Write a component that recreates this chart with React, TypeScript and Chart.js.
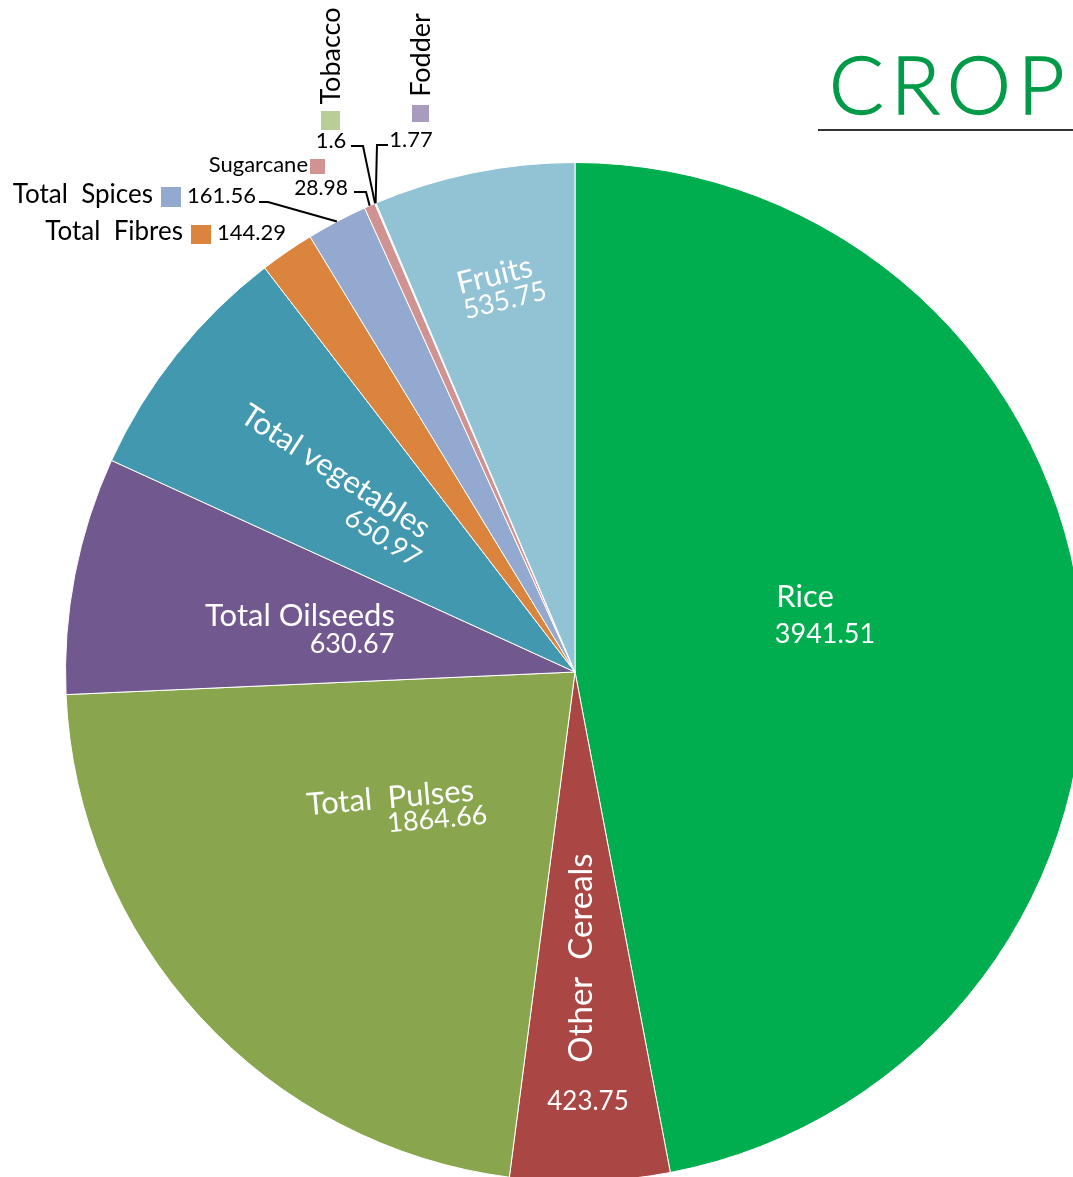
import React, { useEffect, useRef } from "react";
import { Chart, registerables } from "chart.js";

Chart.register(...registerables);

// ---------- data ----------
const categories = [
  "Rice",
  "Other  Cereals",
  "Total  Pulses",
  "Total Oilseeds",
  "Total vegetables",
  "Total  Fibres",
  "Total  Spices",
  "Sugarcane",
  "Tobacco",
  "Fodder",
  "Fruits",
];
const values = [3941.51, 423.75, 1864.66, 630.67, 650.97, 144.29, 161.56, 28.98, 1.6, 1.77, 535.75];
const sliceColors = [
  "#00AE50",
  "#AA4643",
  "#89A54E",
  "#71588F",
  "#4198AF",
  "#DB843D",
  "#93A9CF",
  "#D19392",
  "#B9CD96",
  "#A99BBD",
  "#91C3D5",
];
const titleText = "CROPPING PATTERN";

// ---------- layout (positions of annotations, not marks) ----------
const CANVAS_W = 1200;
const CANVAS_H = 1250;
const FONT = "Lato, 'Open Sans', sans-serif";

type TextPos = { x: number; y: number; rot: number; size: number; align?: CanvasTextAlign };

// labels drawn inside the slices (white)
const insideLabels: { index: number; name: TextPos; value: TextPos }[] = [
  { index: 0, name: { x: 805, y: 607, rot: 0, size: 31 }, value: { x: 825, y: 643, rot: 0, size: 27 } },
  { index: 1, name: { x: 592, y: 958, rot: -90, size: 33 }, value: { x: 588, y: 1110, rot: 0, size: 26 } },
  { index: 2, name: { x: 391, y: 808, rot: -5, size: 31 }, value: { x: 438, y: 828, rot: -5, size: 27 } },
  { index: 3, name: { x: 300, y: 626, rot: 0, size: 31 }, value: { x: 352, y: 653, rot: 0, size: 27 } },
  { index: 4, name: { x: 330, y: 480, rot: 33, size: 31 }, value: { x: 378, y: 545, rot: 33, size: 27 } },
  { index: 10, name: { x: 497, y: 285, rot: -14, size: 31 }, value: { x: 507, y: 309, rot: -14, size: 27 } },
];

// labels drawn outside the pie with a colour key and a leader line
const outsideLabels: {
  index: number;
  name: TextPos;
  key: { x: number; y: number; w: number; h: number };
  value: TextPos;
  leader: [number, number][];
}[] = [
  {
    index: 5,
    name: { x: 183, y: 240, rot: 0, size: 26, align: "right" },
    key: { x: 191, y: 225, w: 20, h: 19 },
    value: { x: 217, y: 240, rot: 0, size: 22, align: "left" },
    leader: [],
  },
  {
    index: 6,
    name: { x: 153, y: 203, rot: 0, size: 26, align: "right" },
    key: { x: 161, y: 187, w: 20, h: 20 },
    value: { x: 187, y: 203, rot: 0, size: 22, align: "left" },
    leader: [
      [259, 202],
      [268, 202],
    ],
  },
  {
    index: 7,
    name: { x: 308, y: 172, rot: 0, size: 22, align: "right" },
    key: { x: 310, y: 159, w: 15, h: 15 },
    value: { x: 321, y: 195, rot: 0, size: 21 },
    leader: [
      [354, 192],
      [366, 192],
    ],
  },
  {
    index: 8,
    name: { x: 340, y: 56, rot: -90, size: 27 },
    key: { x: 321, y: 111, w: 19, h: 19 },
    value: { x: 331, y: 148, rot: 0, size: 22 },
    leader: [
      [351, 146],
      [363, 146],
    ],
  },
  {
    index: 9,
    name: { x: 430, y: 55, rot: -90, size: 27 },
    key: { x: 412, y: 105, w: 17, h: 17 },
    value: { x: 411, y: 147, rot: 0, size: 22 },
    leader: [
      [388, 145],
      [377, 145],
    ],
  },
];

function drawText(
  ctx: CanvasRenderingContext2D,
  text: string,
  p: TextPos,
  color: string
) {
  ctx.save();
  ctx.translate(p.x, p.y);
  ctx.rotate((p.rot * Math.PI) / 180);
  ctx.font = `${p.size}px ${FONT}`;
  ctx.fillStyle = color;
  ctx.textAlign = p.align || "center";
  ctx.textBaseline = "alphabetic";
  ctx.fillText(text, 0, 0);
  ctx.restore();
}

const labelPlugin = {
  id: "labelPlugin",
  afterDraw(chart: any) {
    const ctx: CanvasRenderingContext2D = chart.ctx;
    const meta = chart.getDatasetMeta(0);
    const ds = chart.data.datasets[0];
    const labels = chart.data.labels as string[];

    // title
    ctx.save();
    ctx.translate(829, 114);
    ctx.font = `300 81px ${FONT}`;
    ctx.fillStyle = "#009B48";
    ctx.strokeStyle = "#009B48";
    ctx.lineWidth = 1.4;
    ctx.textAlign = "left";
    ctx.textBaseline = "alphabetic";
    (ctx as any).letterSpacing = "7px";
    ctx.fillText(titleText, 0, 0);
    ctx.strokeText(titleText, 0, 0);
    ctx.restore();
    ctx.save();
    ctx.strokeStyle = "#333333";
    ctx.lineWidth = 2;
    ctx.beginPath();
    ctx.moveTo(818, 130);
    ctx.lineTo(CANVAS_W, 130);
    ctx.stroke();
    ctx.restore();

    // inside labels
    insideLabels.forEach((l) => {
      drawText(ctx, labels[l.index], l.name, "#ffffff");
      drawText(ctx, String(ds.data[l.index]), l.value, "#ffffff");
    });

    // outside labels
    outsideLabels.forEach((l) => {
      drawText(ctx, labels[l.index], l.name, "#000000");
      ctx.fillStyle = (ds.backgroundColor as string[])[l.index];
      ctx.fillRect(l.key.x, l.key.y, l.key.w, l.key.h);
      drawText(ctx, String(ds.data[l.index]), l.value, "#000000");
      if (l.leader.length) {
        const arc = meta.data[l.index];
        const { x, y, startAngle, endAngle, outerRadius } = arc.getProps(
          ["x", "y", "startAngle", "endAngle", "outerRadius"],
          true
        );
        const mid = (startAngle + endAngle) / 2;
        const ex = x + Math.cos(mid) * outerRadius;
        const ey = y + Math.sin(mid) * outerRadius;
        ctx.save();
        ctx.strokeStyle = "#000000";
        ctx.lineWidth = 2;
        ctx.beginPath();
        ctx.moveTo(l.leader[0][0], l.leader[0][1]);
        for (let i = 1; i < l.leader.length; i++) ctx.lineTo(l.leader[i][0], l.leader[i][1]);
        ctx.lineTo(ex, ey);
        ctx.stroke();
        ctx.restore();
      }
    });
  },
};

export default function App() {
  const canvasRef = useRef<HTMLCanvasElement | null>(null);

  useEffect(() => {
    if (!canvasRef.current) return;
    const chart = new Chart(canvasRef.current, {
      type: "pie",
      data: {
        labels: categories,
        datasets: [
          {
            data: values,
            backgroundColor: sliceColors,
            borderColor: "#ffffff",
            borderWidth: 1,
          },
        ],
      },
      options: {
        responsive: false,
        animation: false,
        layout: { padding: { left: 65, right: CANVAS_W - 65 - 1020, top: 162, bottom: CANVAS_H - 162 - 1020 } },
        plugins: {
          legend: { display: false },
          tooltip: { enabled: false },
          title: { display: false },
        },
      },
      plugins: [labelPlugin],
    });
    return () => chart.destroy();
  }, []);

  return (
    <div
      style={{
        position: "absolute",
        left: 0,
        top: 0,
        width: 1073,
        height: 1177,
        overflow: "hidden",
        background: "#ffffff",
      }}
    >
      <canvas
        ref={canvasRef}
        width={CANVAS_W}
        height={CANVAS_H}
        style={{ width: CANVAS_W, height: CANVAS_H, display: "block" }}
      />
    </div>
  );
}
